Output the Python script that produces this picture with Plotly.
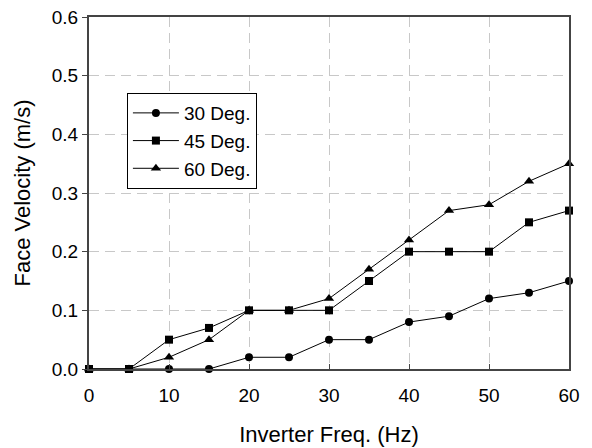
import plotly.graph_objects as go

freq = [0, 5, 10, 15, 20, 25, 30, 35, 40, 45, 50, 55, 60]
deg30 = [0, 0, 0, 0, 0.02, 0.02, 0.05, 0.05, 0.08, 0.09, 0.12, 0.13, 0.15]
deg45 = [0, 0, 0.05, 0.07, 0.10, 0.10, 0.10, 0.15, 0.20, 0.20, 0.20, 0.25, 0.27]
deg60 = [0, 0, 0.02, 0.05, 0.10, 0.10, 0.12, 0.17, 0.22, 0.27, 0.28, 0.32, 0.35]
series_names = ["30 Deg.", "45 Deg.", "60 Deg."]
x_ticks = [0, 10, 20, 30, 40, 50, 60]
y_ticks = [0.0, 0.1, 0.2, 0.3, 0.4, 0.5, 0.6]

FONT = "Liberation Sans, Arial, sans-serif"

fig = go.Figure()
for name, vals, sym, sz in zip(series_names, [deg30, deg45, deg60],
                               ["circle", "square", "triangle-up"], [8, 8, 9]):
    fig.add_trace(go.Scatter(
        x=freq, y=vals, name=name, mode="lines+markers",
        line=dict(color="black", width=1),
        marker=dict(symbol=sym, size=sz, color="black"),
        cliponaxis=False,
    ))

fig.update_layout(
    width=592, height=448,
    margin=dict(l=89, r=23, t=17, b=79, autoexpand=False),
    paper_bgcolor="white", plot_bgcolor="white",
    font=dict(family=FONT, size=18, color="black"),
    showlegend=True,
    legend=dict(
        x=0.079, y=0.784, xanchor="left", yanchor="top",
        bgcolor="white", bordercolor="black", borderwidth=1,
        font=dict(size=19), itemwidth=46, tracegroupgap=0,
    ),
)
fig.update_xaxes(
    range=[0, 60], tickvals=x_ticks, ticktext=[str(v) for v in x_ticks],
    showline=True, linecolor="#444", linewidth=2, mirror=True,
    ticks="inside", ticklen=5, tickcolor="#444",
    tickfont=dict(size=19), ticklabelstandoff=8,
    showgrid=True, gridcolor="#c8c8c8", gridwidth=1, griddash="10px,6px",
    zeroline=False, automargin=False,
    title=dict(text="Inverter Freq. (Hz)", standoff=22),
)
fig.update_yaxes(
    range=[0, 0.6], tickvals=y_ticks, ticktext=[f"{v:.1f}" for v in y_ticks],
    showline=True, linecolor="#444", linewidth=2, mirror=True,
    ticks="outside", ticklen=5, tickcolor="#444",
    tickfont=dict(size=19),
    showgrid=True, gridcolor="#c8c8c8", gridwidth=1, griddash="10px,6px",
    zeroline=False, automargin=False,
    title=dict(text="Face Velocity (m/s)", standoff=15),
)

# remove the default 8px page margin so the figure sits at the window's top-left
fig.write_html("out.html", config={"displayModeBar": False},
               post_script="document.body.style.margin='0';")
